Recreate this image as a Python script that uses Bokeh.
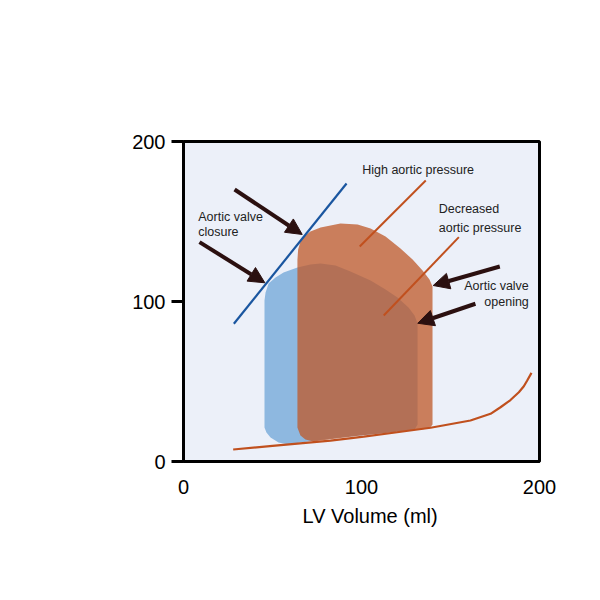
from bokeh.plotting import figure
from bokeh.models import Range1d, FixedTicker, Arrow, NormalHead, Label, Title
from bokeh.embed import file_html
from bokeh.resources import INLINE
from bokeh.core.properties import value

# ---------------- data ----------------
x_ticks = [0, 100, 200]
y_ticks = [0, 100, 200]

# End-diastolic pressure-volume relation
edpvr_vol = [27.9, 50.0, 82.6, 101.3, 120.0, 138.8, 161.2, 172.5, 178.1, 183.7, 188.4, 191.2, 193.1, 195.5]
edpvr_p = [7.5, 9.75, 13.1, 15.6, 18.3, 21.1, 25.6, 29.8, 33.9, 38.4, 43.3, 47.0, 50.6, 55.4]

# Normal loop (blue)
loop_a_vol = [45.5, 45.5, 46.1, 47.8, 51.7, 56.2, 64.0, 71.3, 77.0, 85.4, 93.8, 105.1,
              113.5, 120.2, 126.4, 129.8, 131.5, 131.5, 129.8, 110.7, 88.2, 65.7,
              59.0, 53.4, 48.9, 46.6]
loop_a_p = [21.25, 100.6, 105.6, 111.25, 115.0, 118.1, 121.25, 123.1, 123.75, 122.5,
            118.75, 113.1, 107.5, 102.5, 96.25, 91.25, 86.25, 23.1, 20.0, 17.5, 15.0,
            11.9, 10.6, 11.9, 15.0, 18.1]

# High aortic pressure loop (orange)
loop_b_vol = [64.0, 64.0, 64.4, 65.6, 67.8, 71.3, 77.0, 88.2, 97.8, 105.1, 113.5, 121.9,
              128.7, 134.3, 138.2, 139.9, 139.9, 138.2, 121.9, 99.4, 77.0, 73.0, 68.5, 65.7]
loop_b_p = [21.25, 126.0, 132.5, 137.0, 140.6, 143.75, 146.25, 148.75, 148.1, 145.6, 140.6,
            133.1, 126.25, 119.4, 113.75, 109.4, 23.1, 20.6, 18.75, 16.25, 13.1, 12.5,
            13.75, 16.25]

# End-systolic pressure-volume line (blue)
espvr_vol = [28.3, 91.6]
espvr_p = [86.1, 173.75]

# Pointer lines
high_line_vol = [99.0, 136.1]
high_line_p = [134.4, 175.6]
dec_line_vol = [112.5, 154.7]
dec_line_p = [91.25, 140.2]

# Arrows: start vol, start p, end vol, end p
arrow_x0 = [28.7, 9.0, 177.7, 164.0]
arrow_y0 = [170.0, 137.1, 121.9, 98.6]
arrow_x1 = [66.7, 45.7, 140.3, 131.6]
arrow_y1 = [141.9, 111.7, 110.0, 86.4]

# Annotation texts
left_texts = ["Aortic valve", "closure", "High aortic pressure", "Decreased", "aortic pressure"]
left_x = [8.3, 8.3, 100.4, 143.4, 143.4]
left_y = [152.7, 143.75, 182.3, 157.9, 146.1]
right_texts = ["Aortic valve", "opening"]
right_x = [194.0, 194.0]
right_y = [109.6, 100.0]

ylabel_lines = ["LV", "Pressure", "(mmHg)"]
ylabel_x = [-56.5, -59.5, -58.9]
ylabel_y = [112.7, 94.4, 75.6]

xlabel_text = "LV Volume (ml)"

# ---------------- figure ----------------
FONT = "Liberation Sans"
p = figure(width=584, height=584, output_backend="svg", toolbar_location=None,
           x_range=Range1d(0, 200), y_range=Range1d(0, 200),
           min_border_left=183, min_border_right=45, min_border_top=141, min_border_bottom=123)
p.background_fill_color = "#ECF0F9"
p.border_fill_color = "white"
p.outline_line_color = "black"
p.outline_line_width = 3
p.grid.visible = False

for ax in (p.xaxis, p.yaxis):
    ax.axis_line_width = 3
    ax.axis_line_color = "black"
    ax.major_tick_line_width = 3
    ax.major_tick_in = 0
    ax.minor_tick_in = 0
    ax.minor_tick_out = 0
    ax.major_label_text_font = FONT
    ax.major_label_text_font_size = "20px"
    ax.major_label_text_color = "black"

p.xaxis.ticker = FixedTicker(ticks=x_ticks)
p.yaxis.ticker = FixedTicker(ticks=y_ticks)
p.xaxis.major_tick_out = 0
p.xaxis.major_label_standoff = 18
p.yaxis.major_tick_out = 12
p.yaxis.major_label_standoff = 6

# x axis title, placed below the axis and positioned like the reference
p.add_layout(Title(text=xlabel_text, align="left", offset=119, standoff=12,
                   text_font=FONT, text_font_size="20px", text_font_style="normal",
                   text_color="black"), "below")

# loops
p.patch(loop_a_vol, loop_a_p, fill_color="#8EB8E0", line_color=None)
p.patch(loop_b_vol, loop_b_p, fill_color="#BE5A2A", fill_alpha=0.76, line_color=None)

# relations
p.line(edpvr_vol, edpvr_p, line_color="#C0501E", line_width=2.2)
p.line(espvr_vol, espvr_p, line_color="#1A56A0", line_width=2.2)
p.line(high_line_vol, high_line_p, line_color="#C0501E", line_width=2)
p.line(dec_line_vol, dec_line_p, line_color="#C0501E", line_width=2)

# arrows
AC = "#2B1010"
for x0, y0, x1, y1 in zip(arrow_x0, arrow_y0, arrow_x1, arrow_y1):
    p.add_layout(Arrow(end=NormalHead(size=16, fill_color=AC, line_color=AC, line_width=1),
                       x_start=x0, y_start=y0, x_end=x1, y_end=y1,
                       line_color=AC, line_width=4))

# texts
p.text(x=left_x, y=left_y, text=left_texts, text_font=value(FONT),
       text_font_size=value("12.5px"), text_align="left", text_baseline="middle",
       text_color="#222222")
p.text(x=right_x, y=right_y, text=right_texts, text_font=value(FONT),
       text_font_size=value("12.5px"), text_align="right", text_baseline="middle",
       text_color="#222222")

for t, lx, ly in zip(ylabel_lines, ylabel_x, ylabel_y):
    p.add_layout(Label(x=lx, y=ly, text=t, text_font=FONT, text_font_size="20px",
                       text_align="center", text_baseline="middle", text_color="black"))

open("out.html", "w").write(file_html(p, INLINE))
